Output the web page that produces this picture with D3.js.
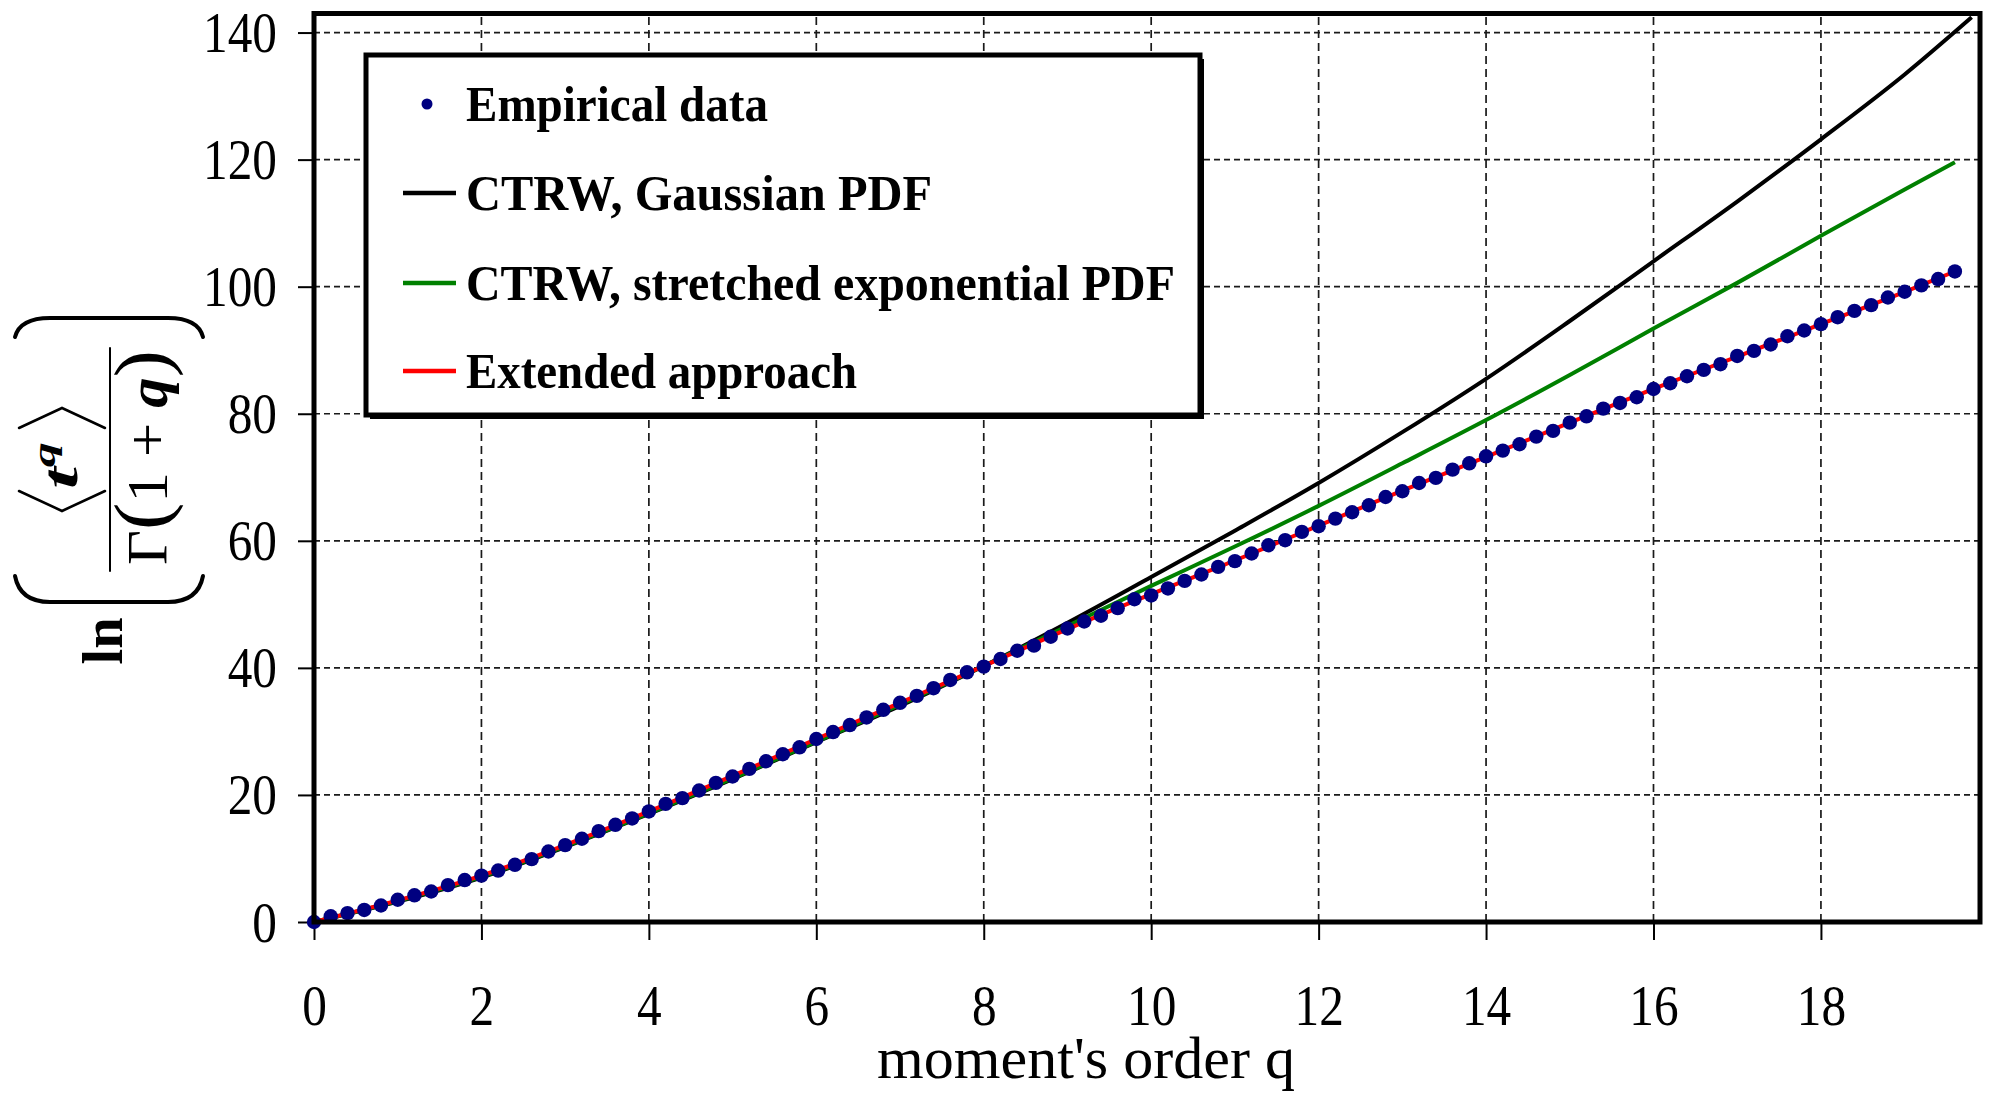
<!DOCTYPE html>
<html>
<head>
<meta charset="utf-8">
<script src="https://cdn.jsdelivr.net/npm/d3@7"></script>
<style>
  html, body { margin: 0; padding: 0; background: #fff; }
  svg { display: block; }
  text { font-family: "Liberation Serif", "Times New Roman", serif; fill: #000; }
</style>
</head>
<body>
<svg id="chart" width="1991" height="1093"></svg>
<script>
// Moment order q of the empirical waiting-time data
const qEmpirical = [
  0, 0.2, 0.4, 0.6, 0.8, 1, 1.2, 1.4, 1.6, 1.8,
  2, 2.2, 2.4, 2.6, 2.8, 3, 3.2, 3.4, 3.6, 3.8,
  4, 4.2, 4.4, 4.6, 4.8, 5, 5.2, 5.4, 5.6, 5.8,
  6, 6.2, 6.4, 6.6, 6.8, 7, 7.2, 7.4, 7.6, 7.8,
  8, 8.2, 8.4, 8.6, 8.8, 9, 9.2, 9.4, 9.6, 9.8,
  10, 10.2, 10.4, 10.6, 10.8, 11, 11.2, 11.4, 11.6, 11.8,
  12, 12.2, 12.4, 12.6, 12.8, 13, 13.2, 13.4, 13.6, 13.8,
  14, 14.2, 14.4, 14.6, 14.8, 15, 15.2, 15.4, 15.6, 15.8,
  16, 16.2, 16.4, 16.6, 16.8, 17, 17.2, 17.4, 17.6, 17.8,
  18, 18.2, 18.4, 18.6, 18.8, 19, 19.2, 19.4, 19.6
];
// ln( <t^q> / Gamma(1+q) ) measured
const lnEmpirical = [
  0, 0.9, 1.4, 1.9, 2.6, 3.5, 4.2, 4.8, 5.8, 6.6,
  7.3, 8.1, 9.0, 9.9, 11.1, 12.1, 13.1, 14.3, 15.3, 16.3,
  17.4, 18.6, 19.5, 20.7, 21.9, 22.9, 24.1, 25.3, 26.4, 27.5,
  28.8, 29.9, 31.0, 32.2, 33.4, 34.5, 35.6, 36.8, 38.1, 39.3,
  40.2, 41.4, 42.7, 43.5, 44.9, 46.2, 47.3, 48.2, 49.4, 50.8,
  51.4, 52.5, 53.7, 54.7, 55.9, 56.8, 58.0, 59.3, 60.1, 61.4,
  62.3, 63.5, 64.5, 65.6, 66.9, 67.8, 69.1, 69.9, 71.2, 72.2,
  73.3, 74.2, 75.2, 76.4, 77.3, 78.6, 79.6, 80.8, 81.7, 82.6,
  83.9, 84.8, 85.9, 86.9, 87.8, 89.1, 89.9, 90.9, 92.2, 93.1,
  94.1, 95.2, 96.2, 97.1, 98.3, 99.2, 100.2, 101.2, 102.4
];

// CTRW model with Gaussian PDF
const qGaussian  = [0, 1, 2, 3, 4, 5, 6, 7, 8, 9, 10, 11, 12, 13, 14, 15, 16, 17, 18, 19, 19.8];
const lnGaussian = [0, 3.2, 7.0, 11.8, 17.0, 22.5, 28.3, 34.0, 40.3, 47.1, 54.3, 61.6, 69.1, 77.1, 85.5, 94.6, 104.0, 113.4, 123.2, 133.4, 142.4];

// CTRW model with stretched exponential PDF
const qStretched  = [0, 1, 2, 3, 4, 5, 6, 7, 8, 9, 10, 11, 12, 13, 14, 15, 16, 17, 18, 19, 19.6];
const lnStretched = [0, 3.3, 7.1, 11.9, 17.1, 22.6, 28.4, 34.2, 40.3, 46.6, 52.9, 59.1, 65.5, 72.2, 79.0, 86.1, 93.4, 100.6, 108.0, 115.3, 119.6];

// Extended approach
const qExtended  = [0, 1, 2, 3, 4, 5, 6, 7, 8, 9, 10, 11, 12, 13, 14, 15, 16, 17, 18, 19, 19.6];
const lnExtended = [0, 3.4, 7.3, 12.1, 17.4, 23.0, 28.8, 34.5, 40.3, 46.1, 51.6, 56.9, 62.4, 67.9, 73.2, 78.6, 83.9, 89.0, 94.1, 99.2, 102.4];

const xTicks = [0, 2, 4, 6, 8, 10, 12, 14, 16, 18];
const yTicks = [0, 20, 40, 60, 80, 100, 120, 140];
const legendLabels = ["Empirical data", "CTRW, Gaussian PDF", "CTRW, stretched exponential PDF", "Extended approach"];
const xTitle = "moment's order q";

const svg = d3.select("#chart");
svg.append("rect").attr("width", 1991).attr("height", 1093).attr("fill", "#fff");

const plotL = 314, plotR = 1980, plotT = 13.5, plotB = 922;
const x = d3.scaleLinear().domain([0, 19.9]).range([plotL, plotR]);
const y = d3.scaleLinear().domain([0, 143]).range([plotB, plotT]);

// dashed grid
const grid = svg.append("g").attr("stroke", "#1a1a1a").attr("stroke-width", 1.7);
grid.selectAll("line.h").data(yTicks.filter(d => d > 0)).join("line")
  .attr("class", "h")
  .attr("x1", plotL).attr("x2", plotR)
  .attr("y1", d => y(d)).attr("y2", d => y(d))
  .attr("stroke-dasharray", "6,4");
grid.selectAll("line.v").data(xTicks.filter(d => d > 0)).join("line")
  .attr("class", "v")
  .attr("y1", plotB).attr("y2", plotT)
  .attr("x1", d => x(d)).attr("x2", d => x(d))
  .attr("stroke-dasharray", "8,5");

// narrow the serif digits a little, as in the typeset figure
function squeeze(sel, k) {
  sel.each(function () {
    const w = this.getComputedTextLength();
    d3.select(this).attr("textLength", w * k).attr("lengthAdjust", "spacingAndGlyphs");
  });
}

// axes
const yAxisG = svg.append("g").attr("transform", `translate(${plotL},0)`)
  .call(d3.axisLeft(y).tickValues(yTicks).tickSize(16).tickPadding(21));
yAxisG.select(".domain").remove();
yAxisG.selectAll(".tick line").attr("stroke", "#000").attr("stroke-width", 2);
yAxisG.selectAll(".tick text").attr("font-size", 56).attr("dy", "0.34em")
  .attr("font-family", "Liberation Serif").attr("fill", "#000");
squeeze(yAxisG.selectAll(".tick text"), 0.88);

const xAxisG = svg.append("g").attr("transform", `translate(0,${plotB})`)
  .call(d3.axisBottom(x).tickValues(xTicks).tickSize(18));
xAxisG.select(".domain").remove();
xAxisG.selectAll(".tick line").attr("stroke", "#000").attr("stroke-width", 2);
xAxisG.selectAll(".tick text").attr("font-size", 56).attr("y", 103).attr("dy", 0)
  .attr("font-family", "Liberation Serif").attr("fill", "#000");
squeeze(xAxisG.selectAll(".tick text"), 0.88);

// model curves
const line = d3.line().x(d => x(d[0])).y(d => y(d[1])).curve(d3.curveMonotoneX);
const zip = (a, b) => a.map((v, i) => [v, b[i]]);
const curves = [
  { q: qGaussian,  v: lnGaussian,  color: "#000000" },
  { q: qStretched, v: lnStretched, color: "#008000" },
  { q: qExtended,  v: lnExtended,  color: "#ff0000" }
];
svg.append("g").selectAll("path").data(curves).join("path")
  .attr("d", d => line(zip(d.q, d.v)))
  .attr("fill", "none")
  .attr("stroke", d => d.color)
  .attr("stroke-width", 4);

// empirical points
svg.append("g").selectAll("circle").data(zip(qEmpirical, lnEmpirical)).join("circle")
  .attr("cx", d => x(d[0])).attr("cy", d => y(d[1]))
  .attr("r", 7.2).attr("fill", "#000080");

// plot frame
svg.append("rect")
  .attr("x", plotL).attr("y", plotT)
  .attr("width", plotR - plotL).attr("height", plotB - plotT)
  .attr("fill", "none").attr("stroke", "#000").attr("stroke-width", 5);

// legend
const lg = svg.append("g");
lg.append("rect").attr("x", 370).attr("y", 59).attr("width", 834).attr("height", 360).attr("fill", "#000");
lg.append("rect").attr("x", 366).attr("y", 55).attr("width", 834).attr("height", 360)
  .attr("fill", "#fff").attr("stroke", "#000").attr("stroke-width", 5);
const rowY = [104, 193, 283, 371];
const rowW = [302, 466, 709, 391];
lg.append("circle").attr("cx", 427).attr("cy", rowY[0]).attr("r", 5.5).attr("fill", "#000080");
curves.forEach((c, i) => {
  lg.append("line").attr("x1", 403).attr("x2", 456)
    .attr("y1", rowY[i + 1]).attr("y2", rowY[i + 1])
    .attr("stroke", c.color).attr("stroke-width", 4.5);
});
legendLabels.forEach((t, i) => {
  lg.append("text").attr("x", 466).attr("y", rowY[i] + 16.5)
    .attr("font-size", 50).attr("font-weight", "bold")
    .attr("textLength", rowW[i]).attr("lengthAdjust", "spacingAndGlyphs")
    .text(t);
});

// x-axis title
svg.append("text").attr("x", 877).attr("y", 1078).attr("font-size", 60)
  .attr("textLength", 418).attr("lengthAdjust", "spacingAndGlyphs")
  .text(xTitle);

// y-axis title: ln( <t^q> / Γ(1+q) ), set vertically
const yt = svg.append("g");
const rot = yt.append("g").attr("transform", "rotate(-90)");
rot.append("text").attr("x", -641).attr("y", 122).attr("text-anchor", "middle")
  .attr("font-size", 58).attr("font-weight", "bold")
  .attr("textLength", 47).attr("lengthAdjust", "spacingAndGlyphs").text("ln");

// numerator t^q
const num = rot.append("text").attr("x", -489).attr("y", 77)
  .attr("textLength", 47).attr("lengthAdjust", "spacingAndGlyphs");
num.append("tspan").attr("font-size", 50).attr("font-weight", "bold").attr("font-style", "italic").text("t");
num.append("tspan").attr("font-size", 32).attr("font-weight", "bold").attr("font-style", "italic")
  .attr("dy", -22).text("q");

// denominator Γ(1+q)
const den = rot.append("text").attr("x", -565).attr("y", 167)
  .attr("textLength", 215).attr("lengthAdjust", "spacingAndGlyphs");
den.append("tspan").attr("font-size", 56).text("Γ");
den.append("tspan").attr("font-size", 76).text("(");
den.append("tspan").attr("font-size", 56).text("1");
den.append("tspan").attr("font-size", 56).text(" + ");
den.append("tspan").attr("font-size", 56).attr("font-weight", "bold").attr("font-style", "italic").text("q");
den.append("tspan").attr("font-size", 76).text(")");

// stretchy delimiters and fraction bar
const delim = yt.append("g").attr("fill", "none").attr("stroke", "#000").attr("stroke-linecap", "round");
delim.append("path").attr("stroke-width", 4)
  .attr("d", "M15,576 Q20,602 50,602 L168,602 Q198,602 203,576");
delim.append("path").attr("stroke-width", 4)
  .attr("d", "M15,337 Q20,318 50,318 L168,318 Q198,318 203,337");
delim.append("path").attr("stroke-width", 2.5).attr("d", "M19,491 L62,511 L105,491");
delim.append("path").attr("stroke-width", 2.5).attr("d", "M19,428 L62,408 L105,428");
delim.append("line").attr("stroke-width", 2).attr("x1", 110).attr("x2", 110).attr("y1", 348).attr("y2", 571);
</script>
</body>
</html>
